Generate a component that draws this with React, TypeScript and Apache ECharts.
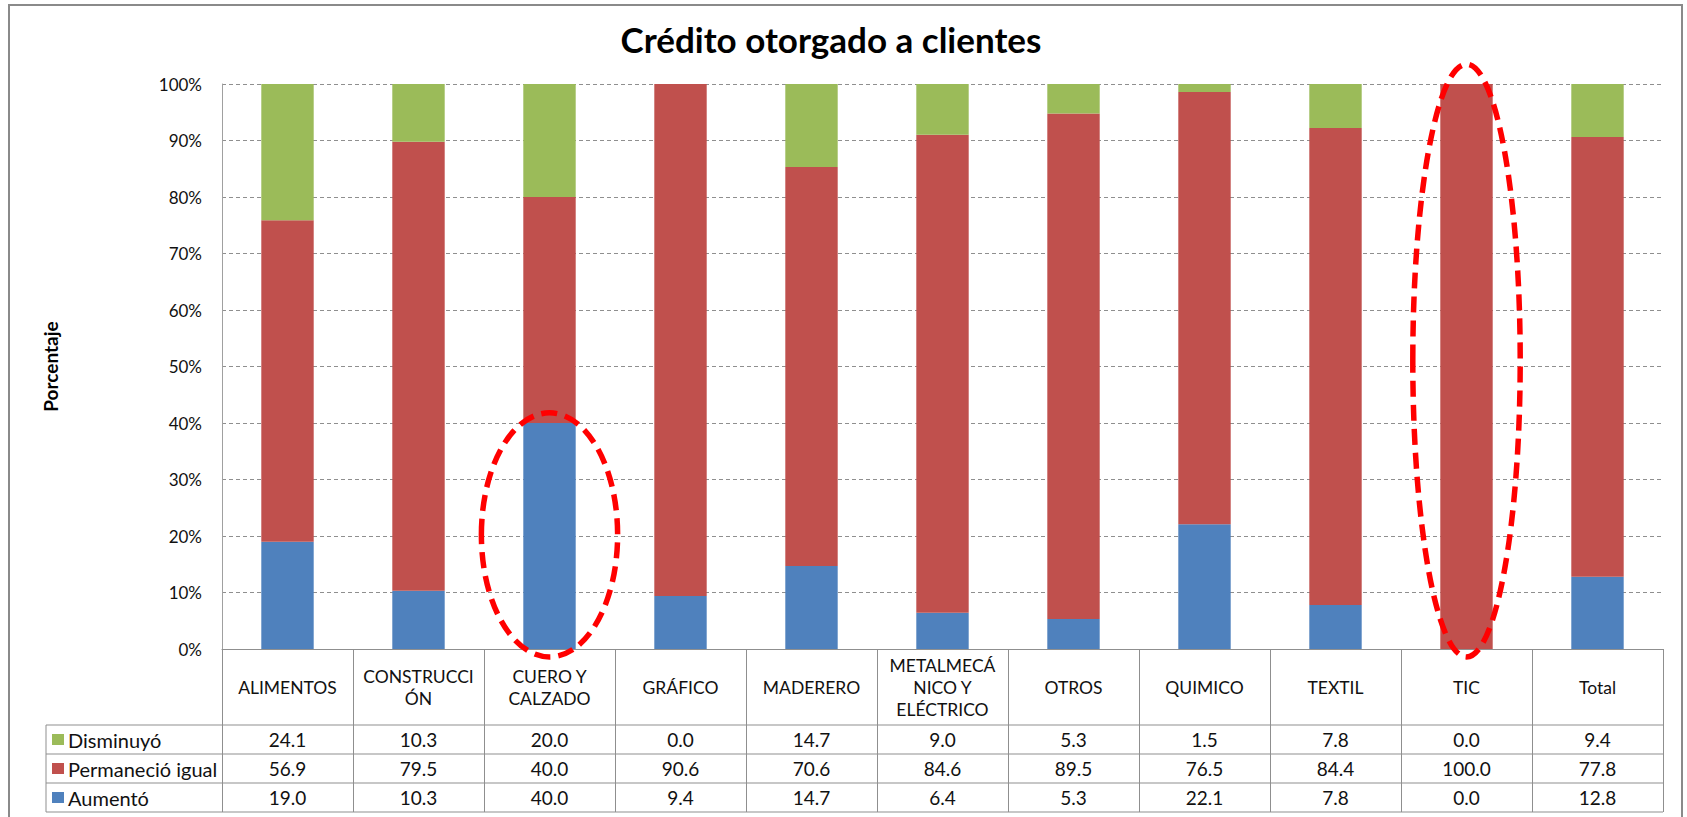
import React, { useEffect, useRef } from "react";
import * as echarts from "echarts";

// ---- data ----
const categories = [
  "ALIMENTOS",
  "CONSTRUCCIÓN",
  "CUERO Y CALZADO",
  "GRÁFICO",
  "MADERERO",
  "METALMECÁNICO Y ELÉCTRICO",
  "OTROS",
  "QUIMICO",
  "TEXTIL",
  "TIC",
  "Total",
];
const categoryLabels = [
  "ALIMENTOS",
  "CONSTRUCCI\nÓN",
  "CUERO Y\nCALZADO",
  "GRÁFICO",
  "MADERERO",
  "METALMECÁ\nNICO Y\nELÉCTRICO",
  "OTROS",
  "QUIMICO",
  "TEXTIL",
  "TIC",
  "Total",
];
const disminuyo = [24.1, 10.3, 20.0, 0.0, 14.7, 9.0, 5.3, 1.5, 7.8, 0.0, 9.4];
const permanecio = [56.9, 79.5, 40.0, 90.6, 70.6, 84.6, 89.5, 76.5, 84.4, 100.0, 77.8];
const aumento = [19.0, 10.3, 40.0, 9.4, 14.7, 6.4, 5.3, 22.1, 7.8, 0.0, 12.8];
const seriesNames = ["Disminuyó", "Permaneció igual", "Aumentó"];
const seriesColors = ["#9BBB59", "#C0504D", "#4F81BD"];
const tableRows = [disminuyo, permanecio, aumento];
const yMax = 100;
const yInterval = 10;
// dashed highlight ellipses (category, top value, bottom value, half width in bands)
const highlights = [
  { category: "CUERO Y CALZADO", top: 41.8, bottom: -1.4, half: 0.52 },
  { category: "TIC", top: 103.5, bottom: -1.4, half: 0.41 },
];

// ---- layout ----
const W = 1687;
const H = 817;
const FONT = "Lato, 'Noto Sans', sans-serif";
const GRID_LEFT = 222;
const GRID_RIGHT_PX = 1663;
const GRID_TOP = 84;
const AXIS_Y = 649;
const CAT_ROW_H = 76;
const ROW_H = 29;
const TABLE_LEFT = 46;
const LINE_COLOR = "#8f8f8f";

export default function App() {
  const ref = useRef<HTMLDivElement>(null);

  useEffect(() => {
    document.body.style.margin = "0";
    const chart = echarts.init(ref.current!, null, { renderer: "svg", width: W, height: H });

    const rowAxes = tableRows.map((vals, r) => ({
      type: "category",
      data: categories,
      position: "bottom",
      offset: CAT_ROW_H + r * ROW_H,
      axisLine: { show: false },
      axisTick: { show: false },
      axisLabel: {
        interval: 0,
        verticalAlign: "middle",
        margin: ROW_H / 2,
        fontFamily: FONT,
        fontSize: 19,
        color: "#111",
        formatter: (_v: string, i: number) => vals[i].toFixed(1),
      },
    }));

    const option: any = {
      animation: false,
      backgroundColor: "#fff",
      title: {
        text: "Crédito otorgado a clientes",
        left: 831,
        top: 21,
        padding: 0,
        textAlign: "center",
        textStyle: { fontFamily: FONT, fontSize: 35, fontWeight: "bold", color: "#000" },
      },
      legend: {
        orient: "vertical",
        left: 52,
        top: AXIS_Y + CAT_ROW_H,
        padding: 0,
        itemGap: 0,
        itemWidth: 12,
        itemHeight: 11,
        icon: "rect",
        data: seriesNames,
        textStyle: { fontFamily: FONT, fontSize: 20, lineHeight: ROW_H, color: "#111", padding: [0, 0, 0, -1] },
      },
      grid: {
        left: GRID_LEFT,
        right: W - GRID_RIGHT_PX,
        top: GRID_TOP,
        bottom: H - AXIS_Y,
      },
      xAxis: [
        {
          type: "category",
          data: categories,
          position: "bottom",
          axisLine: { show: true, lineStyle: { color: LINE_COLOR, width: 1 } },
          axisTick: {
            show: true,
            interval: 0,
            length: CAT_ROW_H + 3 * ROW_H,
            lineStyle: { color: LINE_COLOR, width: 1 },
          },
          axisLabel: {
            interval: 0,
            verticalAlign: "middle",
            margin: CAT_ROW_H / 2,
            fontFamily: FONT,
            fontSize: 17.5,
            lineHeight: 22,
            color: "#111",
            formatter: (_v: string, i: number) => categoryLabels[i],
          },
        },
        ...rowAxes,
      ],
      yAxis: {
        type: "value",
        min: 0,
        max: yMax,
        interval: yInterval,
        name: "Porcentaje",
        nameLocation: "middle",
        nameRotate: 90,
        nameGap: GRID_LEFT - 50,
        nameTextStyle: { fontFamily: FONT, fontSize: 19, fontWeight: "bold", color: "#000", verticalAlign: "middle" },
        axisLine: { show: true, lineStyle: { color: "#a0a0a0", width: 1 } },
        axisTick: { show: false },
        axisLabel: {
          margin: 20,
          fontFamily: FONT,
          fontSize: 17,
          color: "#111",
          formatter: "{value}%",
        },
        splitLine: { show: true, lineStyle: { color: LINE_COLOR, type: [4, 3], width: 1 } },
      },
      series: [
        { name: "Aumentó", data: aumento, color: seriesColors[2] },
        { name: "Permaneció igual", data: permanecio, color: seriesColors[1] },
        { name: "Disminuyó", data: disminuyo, color: seriesColors[0] },
      ].map((s) => ({
        type: "bar",
        name: s.name,
        stack: "total",
        barWidth: "40%",
        data: s.data,
        itemStyle: { color: s.color },
        xAxisIndex: 0,
        yAxisIndex: 0,
      })),
    };

    chart.setOption(option);

    // table frame + highlight ellipses
    const graphics: any[] = [];
    graphics.push({
      type: "rect",
      shape: { x: 9, y: 5, width: 1673, height: 820 },
      style: { fill: "none", stroke: "#8a8a8a", lineWidth: 2 },
      silent: true,
    });
    const rowTop = AXIS_Y + CAT_ROW_H;
    for (let r = 0; r <= tableRows.length; r++) {
      const y = rowTop + r * ROW_H;
      graphics.push({
        type: "line",
        shape: { x1: TABLE_LEFT, y1: y, x2: GRID_RIGHT_PX, y2: y },
        style: { stroke: LINE_COLOR, lineWidth: 1 },
        silent: true,
      });
    }
    graphics.push({
      type: "line",
      shape: { x1: TABLE_LEFT, y1: rowTop, x2: TABLE_LEFT, y2: rowTop + tableRows.length * ROW_H },
      style: { stroke: LINE_COLOR, lineWidth: 1 },
      silent: true,
    });

    const p0 = chart.convertToPixel({ gridIndex: 0 }, [0, 0]) as number[];
    const p1 = chart.convertToPixel({ gridIndex: 0 }, [1, 0]) as number[];
    const band = p1[0] - p0[0];
    highlights.forEach((h) => {
      const idx = categories.indexOf(h.category);
      const top = chart.convertToPixel({ gridIndex: 0 }, [idx, h.top]) as number[];
      const bot = chart.convertToPixel({ gridIndex: 0 }, [idx, h.bottom]) as number[];
      graphics.push({
        type: "ellipse",
        shape: { cx: top[0], cy: (top[1] + bot[1]) / 2, rx: band * h.half, ry: (bot[1] - top[1]) / 2 },
        style: { fill: "none", stroke: "#ff0000", lineWidth: 5.5, lineDash: [16, 8] },
        silent: true,
        z: 100,
      });
    });
    chart.setOption({ graphic: graphics });

    return () => chart.dispose();
  }, []);

  return <div ref={ref} style={{ width: W, height: H, position: "absolute", left: 0, top: 0 }} />;
}
